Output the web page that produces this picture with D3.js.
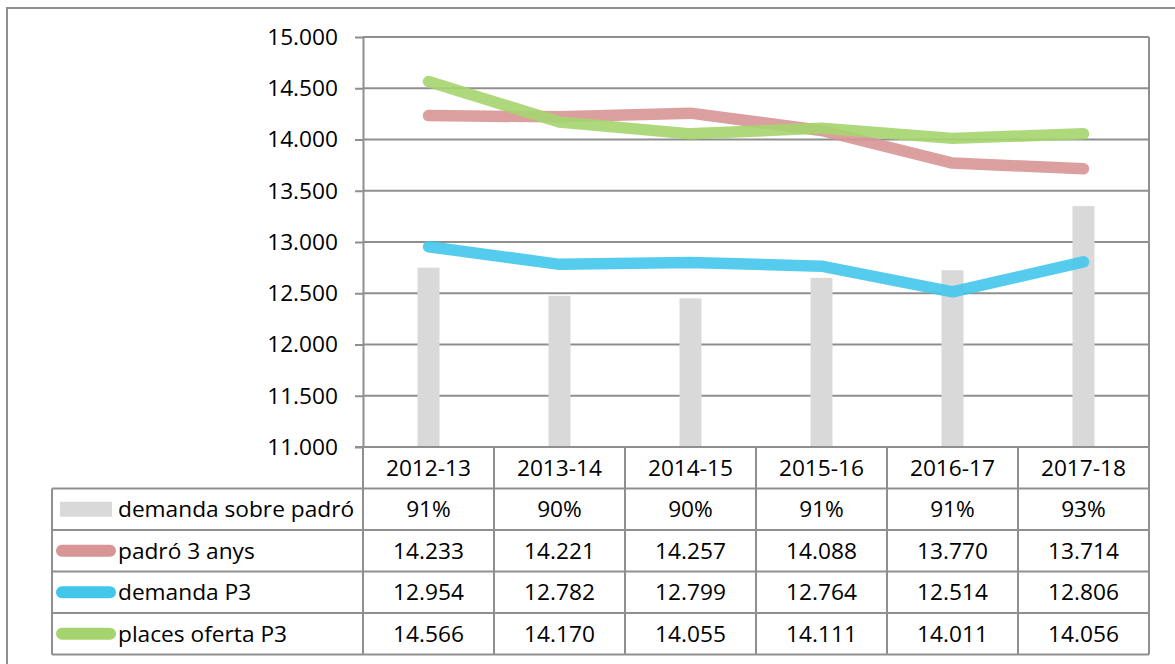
<!DOCTYPE html>
<html>
<head>
<meta charset="utf-8">
<script src="https://cdn.jsdelivr.net/npm/d3@7"></script>
<style>
	body { margin: 0; background: #fff; }
	text { font-family: "Open Sans", sans-serif; fill: #000; }
</style>
</head>
<body>
<div id="chart"></div>
<script>
// Data
const categories = ["2012-13", "2013-14", "2014-15", "2015-16", "2016-17", "2017-18"];
const demandaSobrePadro = [0.910, 0.899, 0.898, 0.906, 0.909, 0.934];
const padro3Anys = [14233, 14221, 14257, 14088, 13770, 13714];
const demandaP3 = [12954, 12782, 12799, 12764, 12514, 12806];
const placesOfertaP3 = [14566, 14170, 14055, 14111, 14011, 14056];
const yTicks = [11000, 11500, 12000, 12500, 13000, 13500, 14000, 14500, 15000];

const svgWidth = 1175;
const svgHeight = 664;

// plot area edges
const plot = { left: 363, right: 1149, top: 37, bottom: 447 };
const legendLeft = 52;
const rowH = 41.5;
const fontSize = 22.7;
const gridColor = "#8f8f8f";

const svg = d3.select("#chart")
	.append("svg")
	.attr("width", svgWidth)
	.attr("height", svgHeight);

// outer frame (runs off the picture at right and bottom)
svg.append("rect")
	.attr("x", 7)
	.attr("y", 8)
	.attr("width", 1250)
	.attr("height", 700)
	.attr("fill", "none")
	.attr("stroke", gridColor)
	.attr("stroke-width", 2);

// Scales
const xScale = d3.scaleBand()
	.domain(categories)
	.range([plot.left, plot.right]);

const yScale = d3.scaleLinear()
	.domain([11000, 15000])
	.range([plot.bottom, plot.top]);

// hidden secondary axis for the percentage bars
const y2Scale = d3.scaleLinear()
	.domain([0.84, 1.0])
	.range([plot.bottom, plot.top]);

const locale = d3.formatLocale({ decimal: ",", thousands: ".", grouping: [3], currency: ["", "€"] });
const numFmt = locale.format(",.0f");
const pctFmt = d3.format(".0%");

// Gridlines
svg.append("g")
	.selectAll("line")
	.data(yTicks)
	.enter()
	.append("line")
	.attr("x1", plot.left)
	.attr("x2", plot.right)
	.attr("y1", d => yScale(d))
	.attr("y2", d => yScale(d))
	.attr("stroke", gridColor)
	.attr("stroke-width", 2);

// right border of plot area
svg.append("line")
	.attr("x1", plot.right).attr("x2", plot.right)
	.attr("y1", plot.top).attr("y2", plot.bottom)
	.attr("stroke", gridColor)
	.attr("stroke-width", 2);

// Y axis
const leftAxis = d3.axisLeft(yScale)
	.tickValues(yTicks)
	.tickSize(8)
	.tickSizeOuter(0)
	.tickPadding(17)
	.tickFormat(numFmt);

const yAxis = svg.append("g")
	.attr("transform", `translate(${plot.left},0)`)
	.call(leftAxis);

yAxis.selectAll("line, path")
	.attr("stroke", gridColor)
	.attr("stroke-width", 2);
yAxis.selectAll("text")
	.attr("font-size", fontSize)
	.attr("font-family", "Open Sans, sans-serif")
	.attr("fill", "#000");

// Bars (secondary axis)
svg.append("g")
	.selectAll("rect")
	.data(demandaSobrePadro)
	.enter()
	.append("rect")
	.attr("x", (d, i) => xScale(categories[i]) + xScale.bandwidth() / 2 - 11)
	.attr("width", 22)
	.attr("y", d => y2Scale(d))
	.attr("height", d => plot.bottom - y2Scale(d))
	.attr("fill", "#d9d9d9");

// Lines
const series = [
	{ name: "padró 3 anys", values: padro3Anys, color: "#d89595" },
	{ name: "demanda P3", values: demandaP3, color: "#43c6ec" },
	{ name: "places oferta P3", values: placesOfertaP3, color: "#a5d46e" }
];

const line = d3.line()
	.x((d, i) => xScale(categories[i]) + xScale.bandwidth() / 2)
	.y(d => yScale(d));

svg.append("g")
	.selectAll("path")
	.data(series)
	.enter()
	.append("path")
	.attr("d", d => line(d.values))
	.attr("fill", "none")
	.attr("stroke", d => d.color)
	.attr("stroke-width", 11.5)
	.attr("stroke-linecap", "round")
	.attr("stroke-linejoin", "round")
	.attr("opacity", 0.9);

// Data table
const tableBottom = plot.bottom + rowH * 5;
const table = svg.append("g");

// horizontal rules
d3.range(1, 6).forEach(r => {
	table.append("line")
		.attr("x1", legendLeft)
		.attr("x2", plot.right)
		.attr("y1", plot.bottom + r * rowH)
		.attr("y2", plot.bottom + r * rowH)
		.attr("stroke", gridColor)
		.attr("stroke-width", 2);
});
// axis line across header row
table.append("line")
	.attr("x1", plot.left - 8).attr("x2", plot.right)
	.attr("y1", plot.bottom).attr("y2", plot.bottom)
	.attr("stroke", gridColor)
	.attr("stroke-width", 2);

// vertical rules
categories.concat([null]).forEach((c, i) => {
	const x = c ? xScale(c) : plot.right;
	table.append("line")
		.attr("x1", x).attr("x2", x)
		.attr("y1", plot.bottom).attr("y2", tableBottom)
		.attr("stroke", gridColor)
		.attr("stroke-width", 2);
});
table.append("line")
	.attr("x1", legendLeft).attr("x2", legendLeft)
	.attr("y1", plot.bottom + rowH).attr("y2", tableBottom)
	.attr("stroke", gridColor)
	.attr("stroke-width", 2);

// header row
table.selectAll("text.cat")
	.data(categories)
	.enter()
	.append("text")
	.classed("cat", true)
	.attr("x", d => xScale(d) + xScale.bandwidth() / 2)
	.attr("y", plot.bottom + rowH / 2)
	.attr("dy", "0.35em")
	.attr("text-anchor", "middle")
	.attr("font-size", fontSize)
	.text(d => d);

const rows = [
	{ name: "demanda sobre padró", values: demandaSobrePadro.map(pctFmt), color: "#d9d9d9", bar: true },
	{ name: series[0].name, values: padro3Anys.map(numFmt), color: series[0].color },
	{ name: series[1].name, values: demandaP3.map(numFmt), color: series[1].color },
	{ name: series[2].name, values: placesOfertaP3.map(numFmt), color: series[2].color }
];

rows.forEach((row, r) => {
	const cy = plot.bottom + rowH * (r + 1) + rowH / 2;

	// legend key
	if (row.bar) {
		table.append("rect")
			.attr("x", 60)
			.attr("y", cy - 7.5)
			.attr("width", 52)
			.attr("height", 15)
			.attr("fill", row.color);
	} else {
		table.append("line")
			.attr("x1", 62).attr("x2", 110)
			.attr("y1", cy).attr("y2", cy)
			.attr("stroke", row.color)
			.attr("stroke-width", 12)
			.attr("stroke-linecap", "round");
	}

	table.append("text")
		.attr("x", 118)
		.attr("y", cy)
		.attr("dy", "0.35em")
		.attr("font-size", fontSize)
		.text(row.name);

	table.selectAll(`text.v${r}`)
		.data(row.values)
		.enter()
		.append("text")
		.classed(`v${r}`, true)
		.attr("x", (d, i) => xScale(categories[i]) + xScale.bandwidth() / 2)
		.attr("y", cy)
		.attr("dy", "0.35em")
		.attr("text-anchor", "middle")
		.attr("font-size", fontSize)
		.text(d => d);
});
</script>
</body>
</html>
